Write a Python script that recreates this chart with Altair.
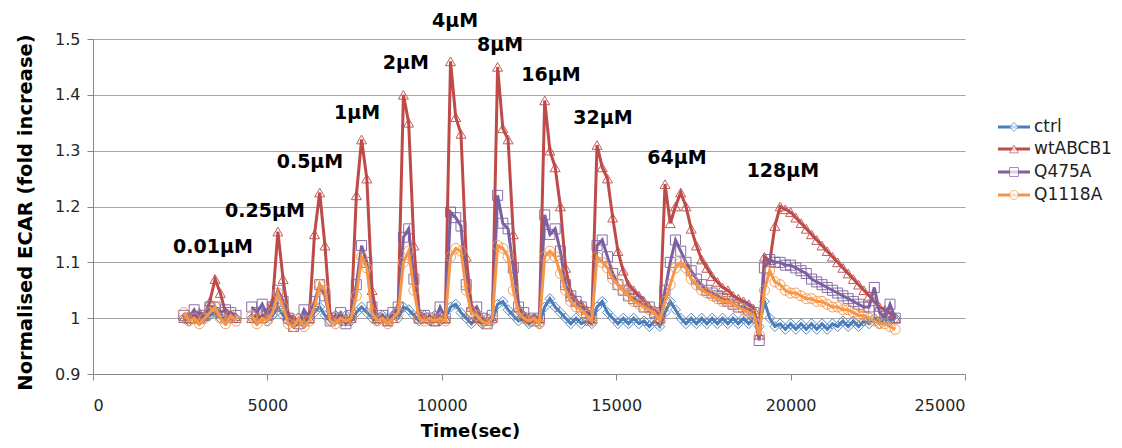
import altair as alt
import pandas as pd

# ---------------- data ----------------
time_sec = [2600, 2750, 2900, 3050, 3200, 3350, 3500, 3650, 3800, 3950, 4100] + [
    4550, 4700, 4850, 5000, 5150, 5300, 5450, 5600, 5750, 5900,
    6050, 6200, 6350, 6500, 6650, 6800, 6950, 7100, 7250, 7400,
    7550, 7700, 7850, 8000, 8150, 8300, 8450, 8600, 8750, 8900,
    9050, 9200, 9350, 9500, 9650, 9800, 9950, 10100, 10250, 10400,
    10550, 10700, 10850, 11000, 11150, 11300, 11450, 11600, 11750, 11900,
    12050, 12200, 12350, 12500, 12650, 12800, 12950, 13100, 13250, 13400,
    13550, 13700, 13850, 14000, 14150, 14300, 14450, 14600, 14750, 14900,
    15050, 15200, 15350, 15500, 15650, 15800, 15950, 16100, 16250, 16400,
    16550, 16700, 16850, 17000, 17150, 17300, 17450, 17600, 17750, 17900,
    18050, 18200, 18350, 18500, 18650, 18800, 18950, 19100, 19250, 19400,
    19550, 19700, 19850, 20000, 20150, 20300, 20450, 20600, 20750, 20900,
    21050, 21200, 21350, 21500, 21650, 21800, 21950, 22100, 22250, 22400,
    22550, 22700, 22850, 23000]

ctrl = [1.0, 0.995, 1.005, 0.995, 1.0, 1.005, 1.01, 1.0, 0.995, 1.0, 1.0] + [
    1.0, 0.995, 1.005, 0.995, 1.005, 1.02, 1.005, 0.995, 0.99, 1.0,
    0.99, 1.0, 1.01, 1.02, 1.005, 0.995, 1.005, 0.995, 1.005, 0.995,
    1.01, 1.02, 1.01, 1.0, 0.995, 1.005, 0.995, 1.005, 1.0, 1.02,
    1.015, 1.005, 0.995, 1.005, 0.995, 1.005, 0.995, 1.0, 1.02, 1.025,
    1.01, 1.0, 0.99, 1.0, 0.99, 1.0, 0.995, 1.025, 1.03, 1.015,
    1.005, 0.995, 1.0, 0.99, 1.0, 0.99, 1.02, 1.035, 1.02, 1.01,
    1.0, 0.99, 1.0, 0.99, 0.995, 0.99, 1.02, 1.03, 1.01, 1.0,
    0.99, 1.0, 0.99, 1.0, 0.99, 0.995, 0.985, 0.995, 0.985, 1.01,
    1.03, 1.015, 1.0, 0.99, 1.0, 0.99, 1.0, 0.99, 1.0, 0.99,
    1.0, 0.99, 1.0, 0.99, 1.0, 0.99, 1.0, 0.985, 1.03, 1.0,
    0.985, 0.99, 0.98, 0.99, 0.98, 0.99, 0.98, 0.99, 0.98, 0.99,
    0.98, 0.99, 0.985, 0.995, 0.985, 0.995, 0.985, 0.995, 0.99, 1.0,
    0.99, 1.0, 0.995, 1.0]

wtABCB1 = [1.0, 1.005, 1.0, 1.01, 1.005, 1.03, 1.07, 1.045, 1.01, 1.005, 1.0] + [
    1.0, 1.005, 1.0, 1.01, 1.03, 1.155, 1.07, 1.005, 1.0, 0.995,
    1.0, 1.0, 1.15, 1.225, 1.13, 1.005, 1.0, 1.0, 0.995, 1.0,
    1.22, 1.32, 1.25, 1.05, 1.0, 1.0, 0.995, 1.0, 1.02, 1.40,
    1.35, 1.13, 1.01, 1.0, 1.0, 0.995, 1.0, 1.0, 1.46, 1.36,
    1.33, 1.11, 1.02, 1.0, 1.0, 0.995, 1.0, 1.45, 1.34, 1.32,
    1.15, 1.02, 1.005, 1.0, 1.0, 1.0, 1.39, 1.30, 1.27, 1.20,
    1.09, 1.045, 1.03, 1.025, 1.015, 1.0, 1.31, 1.27, 1.25, 1.18,
    1.12, 1.085, 1.06, 1.05, 1.04, 1.03, 1.02, 1.015, 1.0, 1.24,
    1.17, 1.20, 1.225, 1.20, 1.16, 1.13, 1.105, 1.09, 1.075, 1.065,
    1.055, 1.05, 1.04, 1.035, 1.03, 1.025, 1.015, 0.97, 1.11, 1.10,
    1.165, 1.20, 1.195, 1.19, 1.18, 1.17, 1.16, 1.15, 1.14, 1.13,
    1.12, 1.11, 1.10, 1.09, 1.08, 1.07, 1.06, 1.05, 1.04, 1.03,
    1.02, 1.015, 1.01, 1.0]

Q475A = [1.005, 1.0, 1.015, 1.0, 1.005, 1.02, 1.02, 1.01, 1.015, 1.01, 1.005] + [
    1.02, 1.01, 1.025, 1.005, 1.02, 1.05, 1.03, 1.0, 0.985, 0.99,
    1.015, 1.0, 1.03, 1.06, 1.04, 0.995, 1.0, 1.01, 0.99, 1.005,
    1.06, 1.13, 1.10, 1.02, 1.0, 1.005, 0.995, 1.01, 1.02, 1.145,
    1.16, 1.07, 1.0, 1.005, 1.0, 0.995, 1.02, 1.0, 1.19, 1.18,
    1.165, 1.06, 1.01, 1.02, 1.0, 0.99, 1.005, 1.22, 1.17, 1.16,
    1.09, 1.02, 1.01, 1.0, 0.995, 1.0, 1.185, 1.15, 1.16, 1.12,
    1.06, 1.04, 1.03, 1.02, 1.01, 1.0, 1.13, 1.14, 1.11, 1.08,
    1.06, 1.05, 1.04, 1.035, 1.03, 1.02, 1.02, 1.01, 1.0, 1.05,
    1.10, 1.14, 1.12, 1.10, 1.085, 1.07, 1.06, 1.05, 1.045, 1.04,
    1.035, 1.03, 1.025, 1.02, 1.02, 1.015, 1.01, 0.96, 1.09, 1.105,
    1.10, 1.10, 1.095, 1.095, 1.09, 1.085, 1.08, 1.07, 1.065, 1.06,
    1.055, 1.05, 1.045, 1.04, 1.035, 1.03, 1.025, 1.02, 1.02, 1.055,
    1.01, 1.0, 1.025, 1.0]

Q1118A = [1.01, 0.995, 1.0, 0.99, 1.0, 1.01, 1.02, 1.0, 0.99, 1.005, 0.995] + [
    1.005, 0.99, 1.0, 0.995, 1.01, 1.045, 1.02, 0.99, 0.985, 1.0,
    0.985, 0.995, 1.02, 1.06, 1.05, 0.995, 0.99, 1.0, 0.995, 1.0,
    1.04, 1.11, 1.09, 1.01, 0.995, 1.0, 0.99, 1.0, 1.01, 1.10,
    1.12, 1.05, 1.0, 0.995, 1.0, 0.995, 1.0, 0.995, 1.11, 1.125,
    1.12, 1.05, 1.01, 1.005, 0.995, 0.99, 1.0, 1.13, 1.125, 1.11,
    1.05, 1.01, 1.0, 0.995, 1.0, 0.99, 1.11, 1.12, 1.11, 1.08,
    1.05, 1.03, 1.02, 1.015, 1.005, 0.995, 1.11, 1.10, 1.09, 1.07,
    1.06, 1.05, 1.04, 1.03, 1.025, 1.02, 1.015, 1.01, 0.995, 1.03,
    1.06, 1.09, 1.10, 1.09, 1.07, 1.06, 1.05, 1.045, 1.04, 1.035,
    1.03, 1.03, 1.025, 1.02, 1.015, 1.01, 1.005, 0.97, 1.05, 1.085,
    1.065, 1.06, 1.05, 1.045, 1.045, 1.04, 1.035, 1.035, 1.03, 1.03,
    1.025, 1.02, 1.02, 1.015, 1.015, 1.01, 1.005, 1.005, 1.0, 0.995,
    0.99, 0.99, 0.985, 0.98]

series_names = ["ctrl", "wtABCB1", "Q475A", "Q1118A"]
series_values = [ctrl, wtABCB1, Q475A, Q1118A]
series_colors = ["#4A7EBB", "#BE4B48", "#7D60A0", "#F79646"]
series_shapes = ["diamond", "triangle-up", "square", "circle"]

conc_labels = ["0.01µM", "0.25µM", "0.5µM", "1µM", "2µM", "4µM",
               "8µM", "16µM", "32µM", "64µM", "128µM"]
conc_label_t = [3440, 4930, 6220, 7570, 8970, 10380, 11670, 13130, 14620, 16740, 19780]
conc_label_v = [1.128, 1.192, 1.28, 1.368, 1.457, 1.532, 1.49, 1.436, 1.359, 1.287, 1.264]

x_ticks = [0, 5000, 10000, 15000, 20000, 25000]
y_ticks = [0.9, 1.0, 1.1, 1.2, 1.3, 1.4, 1.5]

FONT = "DejaVu Sans"

# ---------------- encodings ----------------
x_enc = alt.X("t:Q",
              scale=alt.Scale(domain=[0, 25000], nice=False, zero=False),
              axis=alt.Axis(values=x_ticks, format="d", title="Time(sec)", grid=False,
                            tickSize=6, labelPadding=17, titleX=377, titleY=57,
                            titleBaseline="middle", titleAlign="center",
                            titleFontSize=18))
y_enc = alt.Y("v:Q",
              scale=alt.Scale(domain=[0.9, 1.5], nice=False, zero=False),
              axis=alt.Axis(values=y_ticks, format=".1~f",
                            title="Normalised ECAR (fold increase)", grid=True,
                            tickSize=6, labelPadding=7, titleX=-68, titleY=173,
                            titleBaseline="middle", titleAlign="center", titleAngle=270,
                            titleFontSize=19.5))

layers = []
for name, vals, col, shp in zip(series_names, series_values, series_colors, series_shapes):
    df = pd.DataFrame({"t": time_sec, "v": vals})
    df["seg"] = [1 if t < 4300 else 2 for t in time_sec]
    line = alt.Chart(df).mark_line(color=col, strokeWidth=3).encode(
        x=x_enc, y=y_enc, detail="seg:N")
    pts = alt.Chart(df).mark_point(shape=shp, filled=False, size=100, strokeWidth=1,
                                   color=col, opacity=0.9).encode(x=x_enc, y=y_enc)
    layers += [line, pts]

ann_df = pd.DataFrame({"t": conc_label_t, "v": conc_label_v, "label": conc_labels})
ann = alt.Chart(ann_df).mark_text(font=FONT, fontSize=19, fontWeight="bold",
                                  color="#000000", baseline="middle").encode(
    x=x_enc, y=y_enc, text="label:N")
layers.append(ann)

# legend, drawn as marks to the right of the plot
legend_y = [88, 110, 133, 156]
for name, col, shp, ly in zip(series_names, series_colors, series_shapes, legend_y):
    ldf = pd.DataFrame({"name": [name]})
    layers.append(alt.Chart(ldf).mark_rule(color=col, strokeWidth=3).encode(
        x=alt.value(905), x2=alt.value(937), y=alt.value(ly)))
    layers.append(alt.Chart(ldf).mark_point(shape=shp, filled=True, fill="white", size=80,
                                            strokeWidth=1, stroke=col).encode(
        x=alt.value(921), y=alt.value(ly)))
    layers.append(alt.Chart(ldf).mark_text(font=FONT, fontSize=17, align="left",
                                           baseline="middle", color="#222222").encode(
        x=alt.value(941), y=alt.value(ly), text="name:N"))

chart = alt.layer(*layers).properties(
    width=872, height=335,
    autosize=alt.AutoSizeParams(type="none"),
    padding={"left": 85, "top": 31, "right": 149, "bottom": 66},
).configure_view(stroke=None).configure_axis(
    domainColor="#868686", tickColor="#868686", gridColor="#A6A6A6",
    labelFont=FONT, labelFontSize=16, labelColor="#262626",
    titleFont=FONT, titleFontWeight="bold", titleColor="#000000",
)

chart.save("out.html", embed_options={"renderer": "svg", "actions": False})
